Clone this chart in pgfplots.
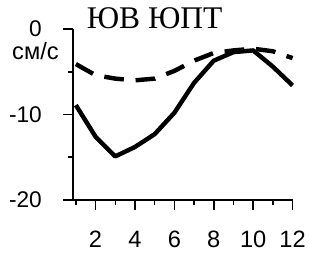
\documentclass[border=0pt]{standalone}
\usepackage{fontspec}
\setmainfont{Liberation Serif}
\setsansfont{Liberation Sans}
\usepackage{pgfplots}
\pgfplotsset{compat=1.18}
\begin{document}
\begin{tikzpicture}
\begin{axis}[
 scale only axis, width=223pt, height=173.5pt,
 xmin=0.85, xmax=12, ymin=-20, ymax=0,
 axis x line=bottom, axis y line=left,
 axis line style={-, line width=1.5pt},
 xtick={2,4,...,12}, minor xtick={1,3,...,11},
 xticklabels={2,4,6,8,10,12},
 ytick={-20,-10,0}, minor ytick={-15,-5},
 yticklabels={-20,-10,0},
 tick align=outside, major tick length=10pt, minor tick length=5pt,
 every tick/.style={line width=1.5pt, black},
 yticklabel style={font=\sffamily\fontsize{23}{23}\selectfont, xshift=-18pt},
 xticklabel style={font=\sffamily\fontsize{24}{24}\selectfont, yshift=-18pt},
 clip=false,
]
\addplot[black, line width=4.5pt, line join=round] coordinates {
(1,-8.9) (2,-12.6) (3,-14.9) (4,-13.8) (5,-12.3) (6,-9.8) (7,-6.3) (8,-3.7) (9,-2.7) (10,-2.5) (11,-4.4) (12,-6.6)};
\addplot[black, line width=4.5pt, dash pattern=on 20pt off 12pt] coordinates {
(1,-4.1) (2,-5.4) (3,-5.8) (4,-6.0) (5,-5.8) (6,-4.9) (7,-3.7) (8,-2.8) (9,-2.5) (10,-2.3) (11,-2.6) (12,-3.4)};
\end{axis}
\node[anchor=base, font=\fontsize{32}{32}\selectfont, inner sep=0pt] at ([xshift=83pt, yshift=0.5pt]current axis.north west) {ЮВ ЮПТ};
\node[anchor=base, font=\sffamily\fontsize{24}{24}\selectfont, inner sep=0pt] at ([xshift=-38pt, yshift=-30.5pt]current axis.north west) {см/с};
\path[use as bounding box] ([shift={(-74pt,-55pt)}]current axis.south west) rectangle ([shift={(12pt,29.5pt)}]current axis.north east);
\end{tikzpicture}
\end{document}
